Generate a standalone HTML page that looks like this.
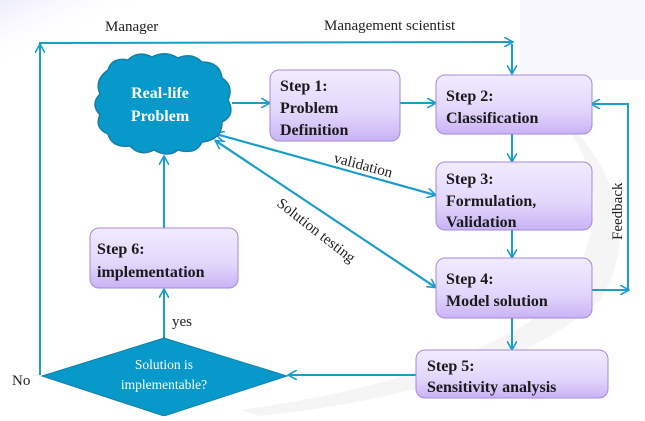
<!DOCTYPE html>
<html><head><style>
body{margin:0;width:645px;height:416px;overflow:hidden;background:#fff;font-family:"Liberation Serif",serif;}
</style></head><body>
<svg width="645" height="416" viewBox="0 0 645 416" xmlns="http://www.w3.org/2000/svg">
<defs>
<linearGradient id="bx" x1="0" y1="0" x2="0" y2="1">
<stop offset="0" stop-color="#f1ecfe"/><stop offset="0.6" stop-color="#e2d6fb"/><stop offset="1" stop-color="#c9b3f5"/>
</linearGradient>
<linearGradient id="bg" x1="0" y1="0" x2="1" y2="1">
<stop offset="0" stop-color="#ecebfc"/><stop offset="0.5" stop-color="#fff" stop-opacity="0"/>
</linearGradient>
<marker id="a" markerWidth="10" markerHeight="10" refX="8" refY="5" orient="auto" markerUnits="userSpaceOnUse">
<path d="M0,0 L9,5 L0,10" fill="none" stroke="#199dcd" stroke-width="1.6"/>
</marker>
</defs>
<rect x="0" y="0" width="160" height="70" fill="url(#bg)"/>
<rect x="520" y="0" width="125" height="80" fill="#f8f7fd"/>
<path d="M530,90 Q640,180 560,300 Q460,380 240,410 L260,416 Q500,390 600,300 Q660,200 540,95 Z" fill="#ececec" opacity="0.5"/>
<g stroke="#199dcd" stroke-width="2" fill="none">
<path d="M40,375 L40,43 L512,42" marker-end="url(#a)"/>
<path d="M40,375 L40,45" marker-end="url(#a)"/>
<path d="M512,44 L512,73" marker-end="url(#a)"/>
<path d="M232,103 L269,103" marker-end="url(#a)"/>
<path d="M400,103 L435,103" marker-end="url(#a)"/>
<path d="M512,134 L512,161" marker-end="url(#a)"/>
<path d="M512,230 L512,257" marker-end="url(#a)"/>
<path d="M512,318 L512,349" marker-end="url(#a)"/>
<path d="M416,375 L289,375" marker-end="url(#a)"/>
<path d="M164,338 L164,290" marker-end="url(#a)"/>
<path d="M164,228 L164,157" marker-end="url(#a)"/>
<path d="M592,290 L628,290 L628,104 L592,104" marker-end="url(#a)"/>
<path d="M592,290 L628,290" marker-end="url(#a)"/>
<path d="M435,195 L216,134" marker-end="url(#a)"/>
<path d="M216,134 L435,195" marker-end="url(#a)"/>
<path d="M435,287 L216,141" marker-end="url(#a)"/>
<path d="M216,141 L435,287" marker-end="url(#a)"/>
</g>
<path d="M108,70 Q112,57 128,60 Q138,50 152,57 Q165,50 178,58 Q192,52 202,62 Q220,62 222,78 Q234,86 228,100 Q236,115 222,122 Q222,140 202,142 Q196,155 178,150 Q168,158 154,150 Q140,157 130,146 Q112,148 108,134 Q94,128 100,115 Q90,104 100,94 Q94,80 108,70 Z" fill="#0699c9" stroke="#157fa8" stroke-width="1.5"/>
<g font-family="Liberation Serif,serif" font-weight="bold" fill="#fff" font-size="16" text-anchor="middle">
<text x="160" y="98">Real-life</text><text x="160" y="121">Problem</text></g>
<path d="M42,376 L164,338 L287,376 L164,416 Z" fill="#0699c9" stroke="#157fa8" stroke-width="1"/>
<g fill="#fff" font-size="13.5" text-anchor="middle"><text x="164" y="369">Solution is</text><text x="164" y="389">implementable?</text></g>
<g fill="url(#bx)" stroke="#a788dd" stroke-width="1">
<rect x="270" y="70" width="130" height="71" rx="9"/>
<rect x="436" y="75" width="156" height="59" rx="9"/>
<rect x="436" y="162" width="156" height="68" rx="9"/>
<rect x="436" y="258" width="156" height="60" rx="9"/>
<rect x="416" y="350" width="192" height="48" rx="9"/>
<rect x="90" y="228" width="148" height="60" rx="9"/>
</g>
<g font-weight="bold" font-size="16" fill="#1a1a1a">
<text x="280" y="91">Step 1:</text><text x="280" y="113">Problem</text><text x="280" y="135">Definition</text>
<text x="446" y="101">Step 2:</text><text x="446" y="123">Classification</text>
<text x="446" y="184">Step 3:</text><text x="446" y="206">Formulation,</text><text x="446" y="227">Validation</text>
<text x="446" y="284">Step 4:</text><text x="446" y="306">Model solution</text>
<text x="427" y="371">Step 5:</text><text x="427" y="392">Sensitivity analysis</text>
<text x="97" y="254">Step 6:</text><text x="97" y="277">implementation</text>
</g>
<g font-size="15" fill="#222">
<text x="105" y="31">Manager</text>
<text x="324" y="30">Management scientist</text>
<text x="12" y="385">No</text>
<text x="172" y="326">yes</text>
<text transform="translate(333,162) rotate(15)" font-size="15">validation</text>
<text transform="translate(276,205) rotate(38)" font-size="15">Solution testing</text>
<text transform="translate(622,240) rotate(-90)" font-size="15">Feedback</text>
</g>
</svg>
</body></html>
